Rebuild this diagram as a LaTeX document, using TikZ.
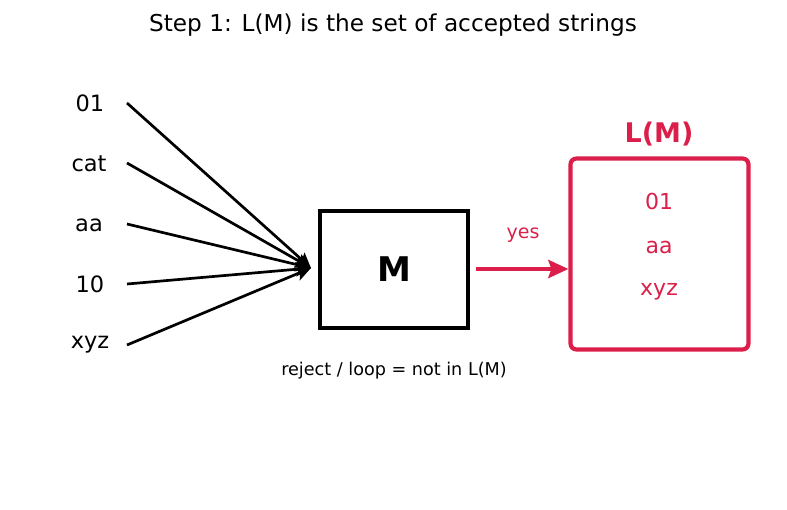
\documentclass[tikz,border=0pt]{standalone}
\usepackage{fontspec}
\setmainfont{DejaVu Sans}
\usetikzlibrary{arrows.meta}
\definecolor{crim}{HTML}{DC1F4A}
\begin{document}
\begin{tikzpicture}[x=1pt,y=-1pt,
  lbl/.style={font=\fontsize{22.5}{26}\selectfont, inner sep=0pt},
  inarrow/.style={line width=2.7pt, -{Stealth[length=15pt,width=14pt,inset=3pt]}},
  crtext/.style={text=crim, inner sep=0pt}]
\useasboundingbox (0,0) rectangle (787,510);
\node[font=\fontsize{23.2}{26}\selectfont, inner sep=0pt] (title) at (393,25) {Step 1: L(M) is the set of accepted strings};
\node[lbl] (s1) at (90,103) {01};
\node[lbl] (s2) at (89,164) {cat};
\node[lbl] (s3) at (89,225) {aa};
\node[lbl] (s4) at (90,284) {10};
\node[lbl] (s5) at (90,345) {xyz};
\coordinate (c1) at (127,103);
\coordinate (c2) at (127,163);
\coordinate (c3) at (127,224);
\coordinate (c4) at (127,284);
\coordinate (c5) at (127,345);
\coordinate (tip) at (311,268);
\node[draw, line width=4.3pt, minimum width=148pt, minimum height=117pt, inner sep=0pt,
  font=\bfseries\fontsize{34}{38}\selectfont] (M) at (394,269.5) {M};
\foreach \i in {1,...,5} \draw[inarrow] (c\i) -- (tip);
\node[draw=crim, line width=4.2pt, rounded corners=6pt, minimum width=178pt, minimum height=191pt, inner sep=0pt] (LM) at (659.5,254) {};
\node[crtext, font=\bfseries\fontsize{27}{30}\selectfont] (LMt) at (659,134) {L(M)};
\node[crtext, font=\fontsize{22}{25}\selectfont] (e1) at (659,201) {01};
\node[crtext, font=\fontsize{22}{25}\selectfont] (e2) at (659,247) {aa};
\node[crtext, font=\fontsize{22}{25}\selectfont] (e3) at (659,292) {xyz};
\coordinate (ystart) at (476,269);
\draw[crim, line width=4.5pt, -{Stealth[length=20pt,width=18pt,inset=3pt]}] (ystart) -- (ystart -| LM.west);
\node[crtext, font=\fontsize{19}{22}\selectfont] (yes) at (523,235) {yes};
\node[font=\fontsize{17.6}{20}\selectfont, inner sep=0pt] (rej) at (394,371) {reject / loop = not in L(M)};
\end{tikzpicture}
\end{document}
